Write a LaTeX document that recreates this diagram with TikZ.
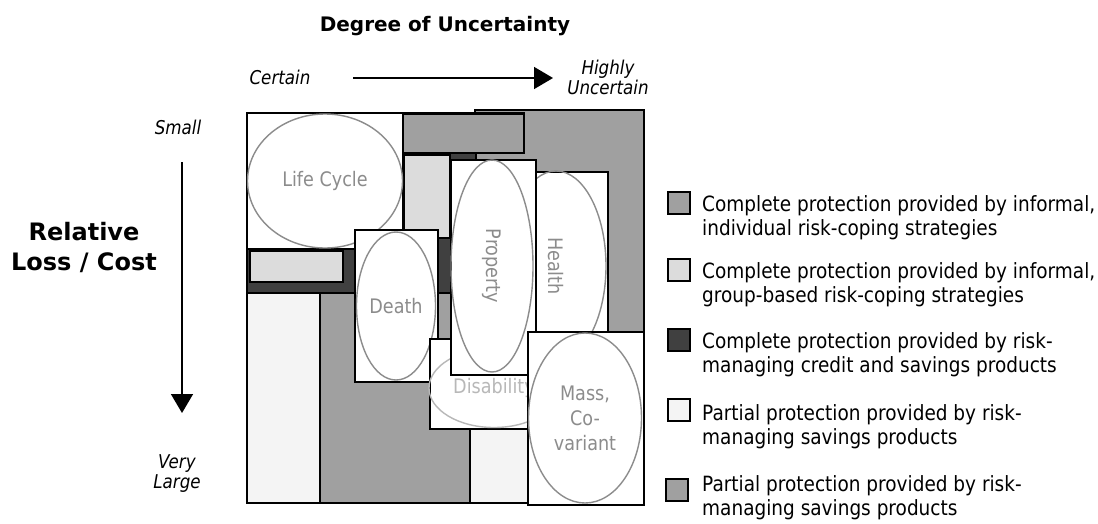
\documentclass[tikz,border=0pt]{standalone}
\usepackage{fontspec}
\setmainfont{DejaVu Sans}[FakeStretch=0.88]
\newfontfamily\headfont{DejaVu Sans}
\usepackage{tikz}
\usetikzlibrary{arrows.meta,shapes.geometric,positioning}
\definecolor{rkIndiv}{HTML}{A0A0A0}
\definecolor{rkGroup}{HTML}{DCDCDC}
\definecolor{rkCredit}{HTML}{404040}
\definecolor{rkSave}{HTML}{F4F4F4}
\definecolor{rkLine}{HTML}{8C8C8C}
\definecolor{rkLabel}{HTML}{8C8C8C}
\definecolor{rkFaint}{HTML}{B8B8B8}

\begin{document}
\begin{tikzpicture}[
    x=1pt,y=-1pt,
    font=\fontsize{20}{24}\selectfont,
    cell/.style={draw=black,line width=2pt},
    risk/.style={ellipse,draw=rkLine,line width=1.4pt,inner sep=0pt,text=rkLabel,align=center,
                 font=\fontsize{20}{25}\selectfont},
    axis/.style={font=\fontsize{19}{20}\selectfont\itshape,align=center},
    head/.style={font=\headfont\bfseries\fontsize{20}{30}\selectfont,align=center},
    key/.style={draw=black,line width=2pt,minimum size=22pt,inner sep=0pt},
    keytxt/.style={anchor=base west,align=left,inner sep=0pt,font=\fontsize{21}{24}\selectfont},
    ar/.style={-{Triangle[length=19pt,width=22pt]},line width=1.6pt}
  ]
    \useasboundingbox (0,0) rectangle (1098,523);

    % axes
    \node[head] (title) at (445,26) {Degree of Uncertainty};
    \node[axis] (certain) at (280,77) {Certain};
    \node[axis] (highly) at (608,77) {Highly\\Uncertain};
    \coordinate (ux0) at (353,78);
    \coordinate (ux1) at (553,78);
    \draw[ar] (ux0) -- (ux1);

    \node[axis] (small) at (178,127) {Small};
    \node[head,font=\headfont\bfseries\fontsize{24}{30}\selectfont] (loss) at (84,247) {Relative\\Loss / Cost};
    \node[axis] (large) at (177,474) {Very\\Large};
    \coordinate (uy0) at (182,162);
    \coordinate (uy1) at (182,413);
    \draw[ar] (uy0) -- (uy1);

    % regions, back to front
    \draw[cell,fill=white] (247,113) rectangle (644,503);
    \draw[cell,fill=rkIndiv]  (475,110) rectangle (644,340);
    \draw[cell,fill=rkCredit] (247,153) rectangle (476,293);
    \draw[cell,fill=rkIndiv]  (320,293) rectangle (470,503);
    \draw[cell,fill=rkSave]   (247,293) rectangle (320,503);
    \draw[cell,fill=rkSave]   (470,428) rectangle (560,503);
    \draw[cell,fill=rkIndiv]  (403,113) rectangle (524,153);
    \draw[cell,fill=rkGroup]  (404,155) rectangle (450,238);
    \draw[cell,fill=rkGroup]  (250,251) rectangle (343,282);
    \draw[line width=3pt] (247,113) -- (524,113);

    % risks
    \draw[cell,fill=white] (247,113) rectangle (403,249);
    \node[risk,minimum width=155pt,minimum height=134pt] (life) at (325,181) {Life Cycle};

    \draw[cell,fill=white] (355,230) rectangle (438,382);
    \node[risk,minimum width=79pt,minimum height=148pt] (death) at (396,306) {Death};

    \draw[cell,fill=white] (430,339) rectangle (545,429);
    \node[risk,draw=rkFaint,text=rkFaint,minimum width=130pt,minimum height=79pt] (disab) at (494,388) {Disability};

    \draw[cell,fill=white] (536,172) rectangle (608,335);
    \node[risk,rotate=-90,minimum width=190pt,minimum height=100pt] (health) at (556,266) {Health};

    \draw[cell,fill=white] (451,160) rectangle (536,375);
    \node[risk,rotate=-90,minimum width=212pt,minimum height=82pt] (property) at (492,266) {Property};

    \draw[cell,fill=white] (528,332) rectangle (644,505);
    \node[risk,minimum width=113pt,minimum height=170pt] (mass) at (585,418) {Mass,\\Co-\\variant};

    % legend
    \node[key,fill=rkIndiv]  (k1) at (679,203) {};
    \node[key,fill=rkGroup]  (k2) at (679,270) {};
    \node[key,fill=rkCredit] (k3) at (679,340) {};
    \node[key,fill=rkSave]   (k4) at (679,410) {};
    \node[key,fill=rkIndiv]  (k5) at (677,490) {};
    \node[keytxt] (t1) at (702,235) {Complete protection provided by informal,\\individual risk-coping strategies};
    \node[keytxt] (t2) at (702,302) {Complete protection provided by informal,\\group-based risk-coping strategies};
    \node[keytxt] (t3) at (702,372) {Complete protection provided by risk-\\managing credit and savings products};
    \node[keytxt] (t4) at (702,444) {Partial protection provided by risk-\\managing savings products};
    \node[keytxt] (t5) at (702,515) {Partial protection provided by risk-\\managing savings products};
  \end{tikzpicture}
\end{document}
